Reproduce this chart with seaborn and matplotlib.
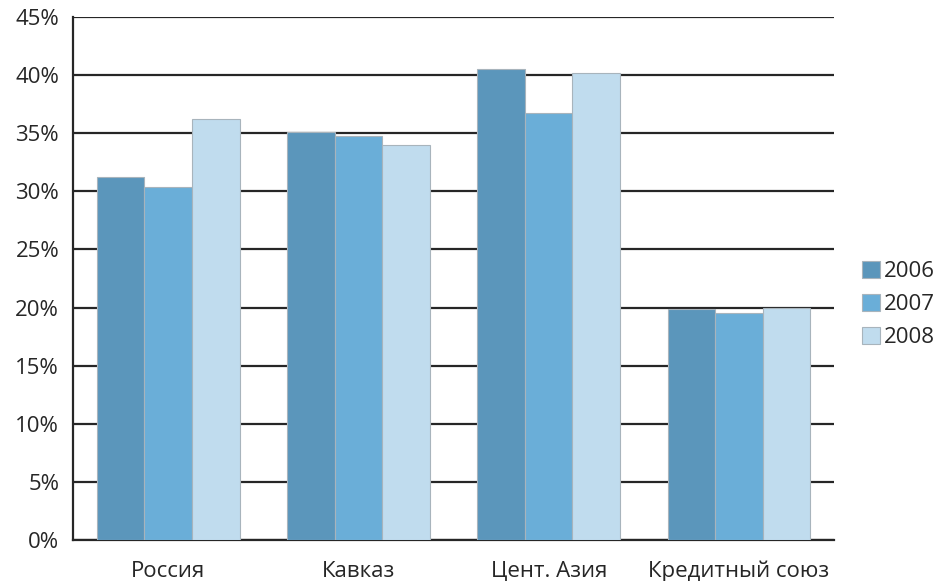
import matplotlib
matplotlib.use("Agg")
import matplotlib.pyplot as plt
import seaborn as sns
import pandas as pd
from matplotlib.ticker import FuncFormatter, FixedLocator

regions = ["Россия", "Кавказ", "Цент. Азия", "Кредитный союз"]
years = ["2006", "2007", "2008"]
share_2006 = [31.2, 35.1, 40.5, 19.9]
share_2007 = [30.4, 34.8, 36.7, 19.5]
share_2008 = [36.2, 34.0, 40.2, 20.0]
y_ticks = [0, 5, 10, 15, 20, 25, 30, 35, 40, 45]

df = pd.DataFrame({
    "region": regions * 3,
    "year": [y for y in years for _ in regions],
    "value": share_2006 + share_2007 + share_2008,
})

sns.set_style("white")
plt.rcParams["font.family"] = ["Open Sans", "DejaVu Sans"]

fig = plt.figure(figsize=(9.41, 5.81), dpi=100)
ax = fig.add_axes([0.0776, 0.0706, 0.8088, 0.9001])

palette = ["#5b96bb", "#6aaed8", "#c0dcee"]
sns.barplot(data=df, x="region", y="value", hue="year", order=regions,
            hue_order=years, palette=palette, width=0.75, saturation=1,
            edgecolor="#a8b4bc", linewidth=0.8, ax=ax, zorder=3)

ax.set_ylim(0, 45)
ax.set_xlim(-0.5, len(regions) - 0.5)
ax.set_yticks(y_ticks)
ax.yaxis.set_major_formatter(FuncFormatter(lambda v, p: f"{int(v)}%"))
ax.yaxis.grid(True, color="#262626", linewidth=1.6, zorder=0)
ax.set_axisbelow(True)

# category boundaries as major ticks, names centred as minor tick labels
ax.xaxis.set_major_locator(FixedLocator([i - 0.5 for i in range(len(regions) + 1)]))
ax.xaxis.set_minor_locator(FixedLocator(list(range(len(regions)))))
ax.set_xticklabels([""] * (len(regions) + 1))
ax.set_xticklabels(regions, minor=True)
ax.tick_params(axis="x", which="major", length=8, width=1.5, color="#262626", direction="out")
ax.tick_params(axis="x", which="minor", length=0, pad=15, labelsize=16, labelcolor="#262626")
ax.tick_params(axis="y", which="major", length=8, width=1.5, color="#262626",
               direction="out", labelsize=16, labelcolor="#262626", pad=2)

for side in ["top", "right"]:
    ax.spines[side].set_visible(False)
for side in ["left", "bottom"]:
    ax.spines[side].set_color("#262626")
    ax.spines[side].set_linewidth(1.6)

ax.set_xlabel("")
ax.set_ylabel("")

leg = ax.legend(loc="center left", bbox_to_anchor=(1.025, 0.45), frameon=False,
                handlelength=0.8, handleheight=0.8, handletextpad=0.2,
                labelspacing=0.52, fontsize=16, borderaxespad=0)
for t in leg.get_texts():
    t.set_color("#262626")

fig.savefig("out.png", dpi=100)
